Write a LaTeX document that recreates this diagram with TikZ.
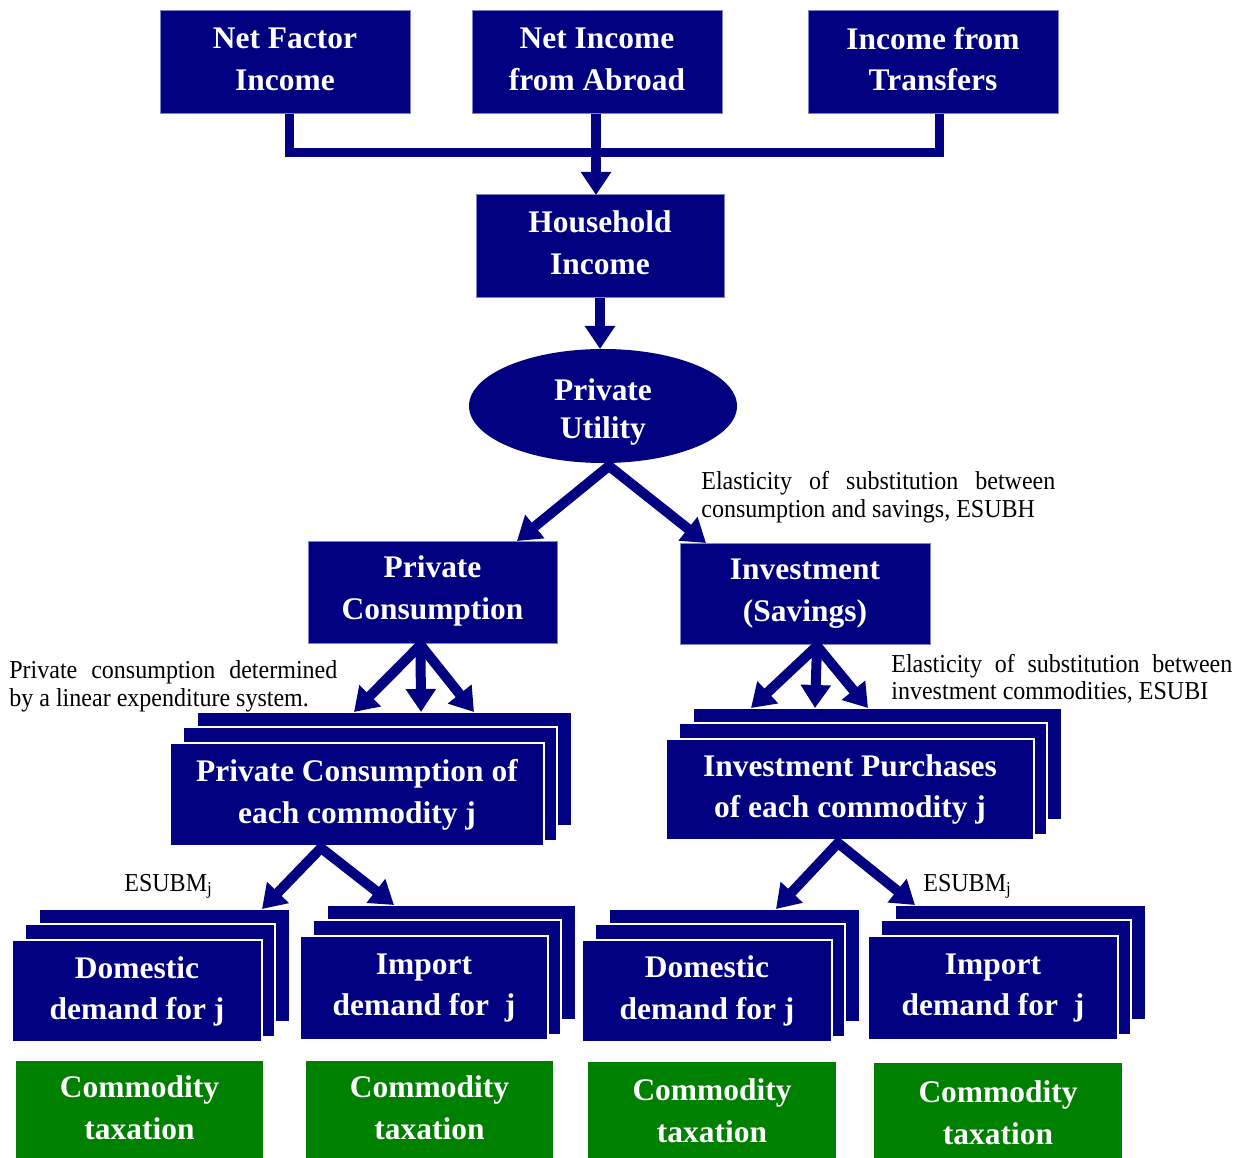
\documentclass[tikz,border=0pt]{standalone}
\usepackage{fontspec}
\setmainfont{Liberation Serif}
\newfontfamily\annfont[FakeStretch=0.93]{Liberation Serif}
\usetikzlibrary{shapes.geometric,arrows.meta,fit,calc}
\definecolor{navy}{RGB}{0,0,128}
\definecolor{grn}{RGB}{0,128,0}
\definecolor{bord}{RGB}{130,130,200}
% box with text: name, x0, y0, x1, y1, style, text, text offset
\newcommand{\tbox}[8]{%
  \node[#6,fit={(#2,#3) (#4,#5)}] (#1) {};
  \node[boxtext] (#1-t) at ($(#1.center)+(0,#8)$) {#7};
}
\newcommand{\stackbox}[7]{%
  \node[stk,fit={({#2+27},{#3-31}) ({#4+28},{#5-20})}] (#1b) {};
  \node[stk,fit={({#2+13},{#3-16}) ({#4+13},{#5-5})}] (#1m) {};
  \tbox{#1}{#2}{#3}{#4}{#5}{stk}{#6}{#7}
}
\begin{document}
\begin{tikzpicture}[x=0.2mm,y=-0.2mm,
  boxtext/.style={text=white,inner sep=0pt,font=\bfseries\fontsize{17.9}{23.8}\selectfont,align=center},
  nbox/.style={fill=navy,draw=bord,line width=0.2mm,inner sep=0pt,outer sep=0pt},
  stk/.style={fill=navy,draw=white,line width=0.25mm,inner sep=0pt,outer sep=0pt},
  gbox/.style={fill=grn,draw=none,inner sep=0pt,outer sep=0pt},
  ann/.style={inner sep=0pt,anchor=base west,font=\annfont\fontsize{14.7}{15.9}\selectfont},
  arr/.style={draw=navy,line width=2mm,-{Triangle[length=4.6mm,width=5.8mm]}},
  arrs/.style={draw=navy,line width=2mm,{Triangle[length=4.6mm,width=5.8mm]}-{Triangle[length=4.6mm,width=5.8mm]}},
  bar/.style={draw=navy,line width=1.8mm}]
\useasboundingbox (0,0) rectangle (1249,1158);

% top row
\tbox{nfi}{160}{11}{410}{114}{nbox}{Net Factor\\Income}{-3}
\tbox{nia}{472}{11}{722}{114}{nbox}{Net Income\\from Abroad}{-3}
\tbox{ift}{808}{11}{1058}{114}{nbox}{Income from\\Transfers}{-3.5}
\tbox{hh}{476}{195}{724}{298}{nbox}{Household\\Income}{-4}
\node[ellipse,fill=navy,inner sep=0pt,outer sep=0pt,minimum width=53.6mm,minimum height=22.8mm] (pu) at (603,406) {};
\node[boxtext] (pu-t) at ($(pu.center)+(0,6)$) {Private\\[-0.8mm]Utility};
\tbox{pc}{308}{541}{557}{643}{nbox}{Private\\Consumption}{-1}
\tbox{inv}{680}{543}{930}{644}{nbox}{Investment\\(Savings)}{0}

% stacks
\stackbox{pcj}{170}{743}{544}{846}{Private Consumption of\\each commodity j}{0}
\stackbox{ipj}{666}{739}{1034}{840}{Investment Purchases\\of each commodity j}{0}
\stackbox{domL}{12}{940}{262}{1042}{Domestic\\demand for j}{0.5}
\stackbox{impL}{300}{936}{548}{1040}{Import\\demand for~ j}{0}
\stackbox{domR}{582}{940}{832}{1042}{Domestic\\demand for j}{0}
\stackbox{impR}{868}{936}{1118}{1040}{Import\\demand for~ j}{0}

% green boxes
\tbox{ct1}{16}{1061}{263}{1158}{gbox}{Commodity\\taxation}{-1.5}
\tbox{ct2}{306}{1061}{553}{1158}{gbox}{Commodity\\taxation}{-1.5}
\tbox{ct3}{588}{1062}{836}{1158}{gbox}{Commodity\\taxation}{0.5}
\tbox{ct4}{874}{1063}{1122}{1158}{gbox}{Commodity\\taxation}{2}

% connectors
\coordinate (topjoin) at (596,153);
\draw[bar] ([xshift=0.8mm]nfi.south) |- (topjoin) -| ([xshift=1.2mm]ift.south);
\draw[arr] ([xshift=-0.2mm]nia.south) -- ([xshift=-0.2mm]nia.south |- hh.north);
\draw[arr] (hh.south) -- (hh.south |- pu.north);

\coordinate (pusplit) at ($(pu.south)+(6,3)$);
\draw[arrs] ($(pc.north east)+(-40,0)$) -- (pusplit) -- ($(inv.north west)+(26,0)$);

\coordinate (pcsplit) at ($(pc.south)+(-12,2)$);
\draw[arrs] ($(pcjb.north west)+(157,0)$) -- (pcsplit) -- ($(pcjb.north west)+(277,0)$);
\draw[arr] (pcsplit) -- ($(pcjb.north west)+(224,0)$);

\coordinate (invsplit) at ($(inv.south)+(12,2)$);
\draw[arrs] ($(ipjb.north west)+(58,0)$) -- (invsplit) -- ($(ipjb.north west)+(175,0)$);
\draw[arr] (invsplit) -- ($(ipjb.north west)+(122,0)$);

\coordinate (pcjsplit) at ($(pcj.south)+(-36,2)$);
\draw[arrs] ($(domLb.north west)+(223,0)$) -- (pcjsplit) -- ($(impLb.north west)+(67,0)$);

\coordinate (ipjsplit) at ($(ipj.south)+(-12,3)$);
\draw[arrs] ($(domRb.north west)+(167,0)$) -- (ipjsplit) -- ($(impRb.north west)+(20,0)$);

% annotations
\node[ann] (esubh1) at (701,489) {\makebox[70.8mm][s]{Elasticity of substitution between}};
\node[ann] (esubh2) at (701,517) {consumption and savings, ESUBH};
\node[ann] (esubi1) at (891,672) {\makebox[68.2mm][s]{Elasticity of substitution between}};
\node[ann] (esubi2) at (891,699) {investment commodities, ESUBI};
\node[ann] (les1) at (9,678) {\makebox[65.6mm][s]{Private consumption determined}};
\node[ann] (les2) at (9,706) {by a linear expenditure system.};
\node[ann] (esubmL) at (124,891) {ESUBM\textsubscript{j}};
\node[ann] (esubmR) at (923,891) {ESUBM\textsubscript{j}};
\end{tikzpicture}
\end{document}
